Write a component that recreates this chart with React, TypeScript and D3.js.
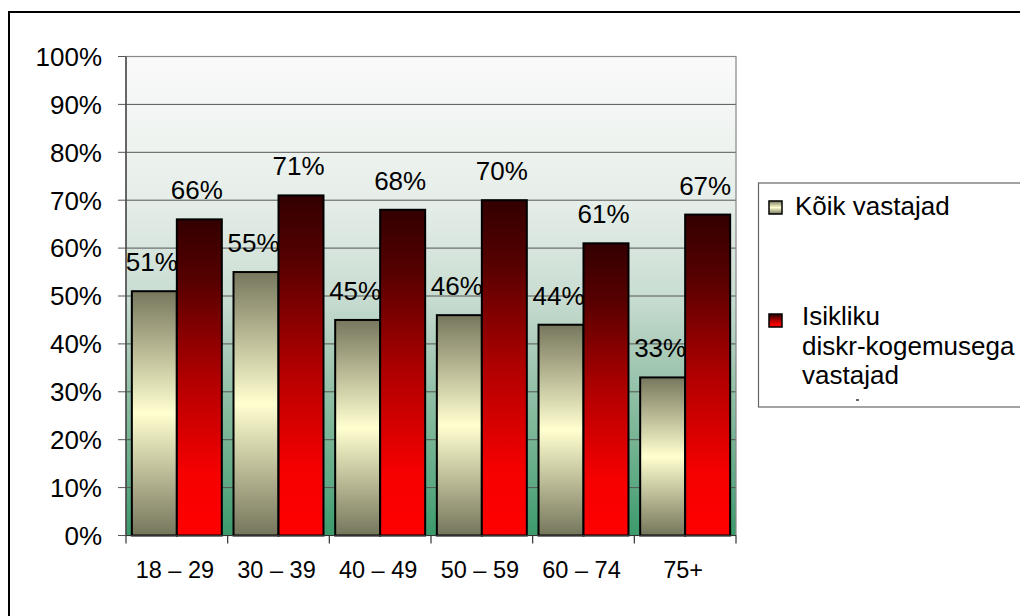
import React from "react";
import * as d3 from "d3";

const categories = ["18 – 29", "30 – 39", "40 – 49", "50 – 59", "60 – 74", "75+"];
const seriesNames = ["Kõik vastajad", "Isikliku diskr-kogemusega vastajad"];
const allRespondents = [51, 55, 45, 46, 44, 33];
const discrExperience = [66, 71, 68, 70, 61, 67];
const yTicks = [0, 10, 20, 30, 40, 50, 60, 70, 80, 90, 100];

const W = 1020;
const H = 616;
const plot = { left: 126, right: 736, top: 56.5, bottom: 535.5 };
const FONT = "'Liberation Sans', Arial, sans-serif";

export default function App() {
  const x0 = d3.scaleBand<string>().domain(categories).range([plot.left, plot.right]).paddingInner(0).paddingOuter(0);
  const x1 = d3.scaleBand<string>().domain(["a", "b"]).range([0, x0.bandwidth()]).paddingInner(0).paddingOuter(0.13);
  const y = d3.scaleLinear().domain([0, 100]).range([plot.bottom, plot.top]);

  const series = [
    { key: "a", values: allRespondents, fill: "url(#gradGray)" },
    { key: "b", values: discrExperience, fill: "url(#gradRed)" },
  ];

  const boundaries = d3.range(categories.length + 1).map((i) => plot.left + i * x0.step());

  return (
    <svg width={W} height={H} style={{ position: "absolute", left: 0, top: 0, background: "#fff" }} fontFamily={FONT}>
      <defs>
        <linearGradient id="gradBg" x1="0" y1="0" x2="0" y2="1">
          <stop offset="0" stopColor="#fafafa" />
          <stop offset="0.3" stopColor="#e6eee9" />
          <stop offset="0.5" stopColor="#c9ddd2" />
          <stop offset="0.6" stopColor="#aecdbc" />
          <stop offset="0.7" stopColor="#92c0a7" />
          <stop offset="0.8" stopColor="#77b494" />
          <stop offset="0.9" stopColor="#5ba883" />
          <stop offset="1" stopColor="#3a9a6a" />
        </linearGradient>
        <linearGradient id="gradGray" x1="0" y1="0" x2="0" y2="1">
          <stop offset="0" stopColor="#77775e" />
          <stop offset="0.5" stopColor="#ffffd0" />
          <stop offset="1" stopColor="#75755c" />
        </linearGradient>
        <linearGradient id="gradRed" x1="0" y1="0" x2="0" y2="1">
          <stop offset="0" stopColor="#330000" />
          <stop offset="0.2" stopColor="#580000" />
          <stop offset="0.5" stopColor="#b00000" />
          <stop offset="0.8" stopColor="#f50000" />
          <stop offset="1" stopColor="#ff0000" />
        </linearGradient>
      </defs>

      {/* outer border */}
      <rect x={9} y={12} width={1200} height={800} fill="none" stroke="#000" strokeWidth={2} />

      {/* plot background */}
      <rect x={plot.left} y={plot.top} width={plot.right - plot.left} height={plot.bottom - plot.top} fill="url(#gradBg)" />

      {/* gridlines */}
      {yTicks.map((t) => (
        <line key={"g" + t} x1={plot.left - 8} x2={plot.right} y1={y(t)} y2={y(t)} stroke="#555" strokeWidth={1} />
      ))}
      <rect x={plot.left} y={plot.top} width={plot.right - plot.left} height={plot.bottom - plot.top} fill="none" stroke="#888" strokeWidth={1.2} />

      {/* y tick labels */}
      {yTicks.map((t) => (
        <text key={"yl" + t} x={102} y={y(t)} dy="0.36em" textAnchor="end" fontSize={26} fill="#000">
          {t + "%"}
        </text>
      ))}

      {/* bars */}
      {series.map((s) =>
        categories.map((c, i) => {
          const bx = (x0(c) as number) + (x1(s.key) as number);
          const by = y(s.values[i]);
          return (
            <rect key={s.key + c} x={bx} y={by} width={x1.bandwidth()} height={plot.bottom - by} fill={s.fill} stroke="#000" strokeWidth={2} />
          );
        })
      )}

      {/* axes */}
      <line x1={plot.left} x2={plot.left} y1={plot.top} y2={plot.bottom} stroke="#333" strokeWidth={1.2} />
      <line x1={plot.left} x2={plot.right} y1={plot.bottom} y2={plot.bottom} stroke="#333" strokeWidth={1.2} />
      {boundaries.map((bx, i) => (
        <line key={"xt" + i} x1={bx} x2={bx} y1={plot.bottom} y2={plot.bottom + 8} stroke="#333" strokeWidth={1.2} />
      ))}

      {/* x labels */}
      {categories.map((c) => (
        <text key={"xl" + c} x={(x0(c) as number) + x0.bandwidth() / 2 - 2} y={578} textAnchor="middle" fontSize={23.5} fill="#000">
          {c}
        </text>
      ))}

      {/* data labels */}
      {series.map((s) =>
        categories.map((c, i) => {
          const cx = (x0(c) as number) + (x1(s.key) as number) + x1.bandwidth() / 2 - 2.5;
          return (
            <text key={"dl" + s.key + c} x={cx} y={y(s.values[i]) - 20} textAnchor="middle" fontSize={26} fill="#000">
              {s.values[i] + "%"}
            </text>
          );
        })
      )}

      {/* legend */}
      <rect x={758.5} y={183} width={400} height={224} fill="#fff" stroke="#666" strokeWidth={1.2} />
      <rect x={769} y={201} width={13} height={13} fill="url(#gradGray)" stroke="#000" strokeWidth={1.5} />
      <text x={795} y={215} fontSize={26} fill="#000">{seriesNames[0]}</text>
      <rect x={769} y={314} width={13} height={13} fill="url(#gradRed)" stroke="#000" strokeWidth={1.5} />
      <text x={802} y={325} fontSize={26} fill="#000">Isikliku</text>
      <text x={802} y={355} fontSize={26} fill="#000">diskr-kogemusega</text>
      <text x={802} y={384} fontSize={26} fill="#000">vastajad</text>
      <line x1={856} x2={859} y1={400} y2={400} stroke="#000" strokeWidth={1.2} />
    </svg>
  );
}
